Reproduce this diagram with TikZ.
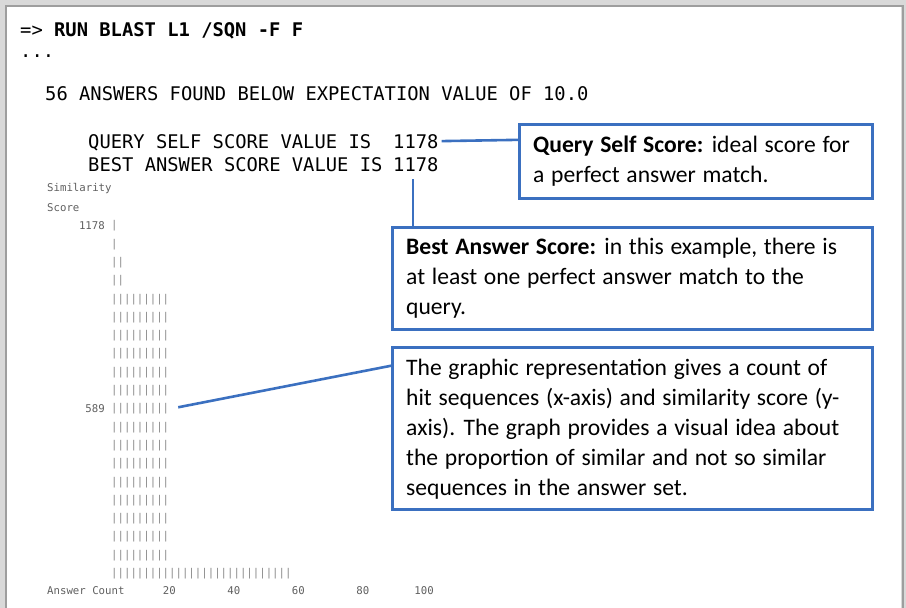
\documentclass[tikz,border=0pt]{standalone}
\usepackage{fontspec}
\setmainfont[WordSpace={1.25,0.5,0.3}]{Carlito}
\newfontfamily\monofont{DejaVu Sans Mono}
\usetikzlibrary{calc}
\definecolor{callblue}{RGB}{59,112,192}
\definecolor{labelgray}{RGB}{95,95,95}
\definecolor{bargray}{RGB}{135,135,135}
\begin{document}
\begin{tikzpicture}[x=1pt,y=-1pt,
  cmd/.style={font=\monofont\fontsize{18.8}{22}\selectfont, inner sep=0, anchor=base west},
  chart/.style={font=\monofont\fontsize{10.7}{12}\selectfont, text=labelgray, inner sep=0},
  bars/.style={chart, text=bargray, anchor=west},
  callout/.style={draw=callblue, line width=2.6pt, fill=white, anchor=north west, inner sep=0},
  boxtext/.style={font=\fontsize{23.6}{30}\selectfont, align=left, inner sep=0, anchor=north west},
  link/.style={draw=callblue, line width=2.6pt}]
\useasboundingbox (0,0) rectangle (906,608);
% frame
\draw[black!15, line width=6pt] (3,620) -- (3,3) -- (904,3) -- (904,620);
\draw[black!38, line width=1.6pt] (6,620) -- (6,6) -- (903,6) -- (903,620);
% command output
\node[cmd] (c1) at (20,36) {=> \textbf{RUN BLAST L1 /SQN -F F}};
\node[cmd] (c2) at (20,57) {...};
\node[cmd] (c3) at (45,100) {56 ANSWERS FOUND BELOW EXPECTATION VALUE OF 10.0};
\node[cmd] (q) at (88,148) {QUERY SELF SCORE VALUE IS};
\node[cmd] (qnum) at (393,148) {1178};
\node[cmd] (b) at (88,171) {BEST ANSWER SCORE VALUE IS};
\node[cmd] (bnum) at (393,171) {1178};
% chart
\node[chart, anchor=west] (ylab1) at (47,189) {Similarity};
\node[chart, anchor=west] (ylab2) at (47,208) {Score};
\node[chart, anchor=east] (ytop) at (105,226) {1178};
\node[bars] (row0) at (111,226) {|};
\node[bars] (row1) at (111,244.3) {|};
\node[bars] (row2) at (111,262.6) {||};
\node[bars] (row3) at (111,280.9) {||};
\foreach \i in {4,...,18}{
  \node[bars] (row\i) at (111,{226+18.3*\i}) {|||||||||};
}
\node[bars] (row19) at (111,573.7) {||||||||||||||||||||||||||||};
\node[chart, anchor=east] (ymid) at (105,409) {589};
\node[chart, anchor=west] (xlab) at (47,591) {Answer Count};
\node[chart, anchor=east] (x20) at (176,591) {20};
\node[chart, anchor=east] (x40) at (240.5,591) {40};
\node[chart, anchor=east] (x60) at (305,591) {60};
\node[chart, anchor=east] (x80) at (369.5,591) {80};
\node[chart, anchor=east] (x100) at (434,591) {100};
% callouts
\node[callout, minimum width=353, minimum height=74] (qbox) at (518,123) {};
\node[boxtext] (qtext) at (533,136) {\textbf{Query Self Score:} ideal score for\\a perfect answer match.};
\node[callout, minimum width=480, minimum height=102] (bbox) at (391,226) {};
\node[boxtext] (btext) at (406,238) {\textbf{Best Answer Score:} in this example, there is\\at least one perfect answer match to the\\query.};
\node[callout, minimum width=480, minimum height=162] (gbox) at (391,346) {};
\node[boxtext] (gtext) at (406,359) {The graphic representation gives a count of\\hit sequences (x-axis) and similarity score (y-\\axis). The graph provides a visual idea about\\the proportion of similar and not so similar\\sequences in the answer set.};
% connectors
\draw[link, shorten <=3pt] (qnum.east) -- ($(qbox.north west)!0.22!(qbox.south west)$);
\coordinate (bstart) at ($(bnum.south)+(-3,0)$);
\draw[link, shorten <=8pt] (bstart) -- (bstart |- bbox.north);
\draw[link, shorten <=9pt] (row10.east) -- ($(gbox.north west)!0.12!(gbox.south west)$);
\end{tikzpicture}
\end{document}
